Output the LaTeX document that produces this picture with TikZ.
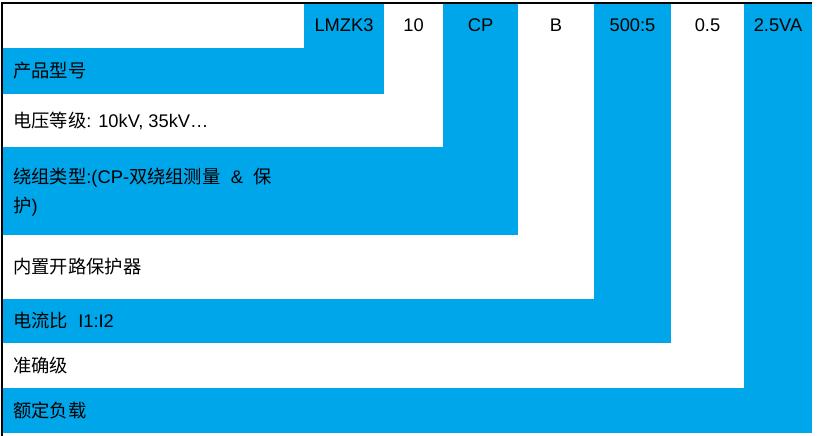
\documentclass[tikz,border=0pt]{standalone}
\usepackage{fontspec}
\setmainfont{Liberation Sans}
\newfontfamily\cjk{Noto Sans CJK SC}
\definecolor{cellblue}{RGB}{0,166,234}
\begin{document}
\begin{tikzpicture}[x=1pt,y=-1pt,
  blk/.style={fill=cellblue,draw=none},
  wht/.style={fill=white,draw=none},
  lbl/.style={anchor=west,inner sep=0pt,font=\fontsize{18.3}{29}\selectfont,align=left},
  hdr/.style={anchor=center,inner sep=0pt,font=\fontsize{18.3}{29}\selectfont}]
\useasboundingbox (0,0) rectangle (819,436);
\fill[white] (0,0) rectangle (819,436);
% L-shaped regions, drawn from the outermost inwards
\fill[blk] (2,388) rectangle (812,433);
\fill[blk] (744,3) rectangle (812,388);
\fill[wht] (2,343) rectangle (744,388);
\fill[wht] (671,3) rectangle (744,343);
\fill[blk] (2,299) rectangle (671,343);
\fill[blk] (594,3) rectangle (671,299);
\fill[wht] (2,235) rectangle (594,299);
\fill[wht] (518,3) rectangle (594,235);
\fill[blk] (2,147) rectangle (518,235);
\fill[blk] (443,3) rectangle (518,147);
\fill[wht] (2,94) rectangle (443,147);
\fill[wht] (384,3) rectangle (443,94);
\fill[blk] (2,48) rectangle (384,94);
\fill[blk] (304,3) rectangle (384,48);
% frame
\draw[black,line width=1.2pt] (2,436) -- (2,3) -- (812,3);
% header texts
\node[hdr] (h1) at (344,25.5) {LMZK3};
\node[hdr] (h2) at (413.5,25.5) {10};
\node[hdr] (h3) at (480.5,25.5) {CP};
\node[hdr] (h4) at (556,25.5) {B};
\node[hdr] (h5) at (632.5,25.5) {500:5};
\node[hdr] (h6) at (707.5,25.5) {0.5};
\node[hdr] (h7) at (778,25.5) {2.5VA};
% row labels
\node[lbl] (r1) at (13,71) {{\cjk 产品型号}};
\node[lbl] (r2) at (13,120.5) {{\cjk 电压等级}: 10kV, 35kV…};
\node[lbl] (r3) at (13,192) {{\cjk 绕组类型}:(CP-{\cjk 双绕组测量} \ \& \ {\cjk 保}\\{\cjk 护})};
\node[lbl] (r4) at (13,267) {{\cjk 内置开路保护器}};
\node[lbl] (r5) at (13,321) {{\cjk 电流比}\ \ I1:I2};
\node[lbl] (r6) at (13,365.5) {{\cjk 准确级}};
\node[lbl] (r7) at (13,410.5) {{\cjk 额定负载}};
\end{tikzpicture}
\end{document}
